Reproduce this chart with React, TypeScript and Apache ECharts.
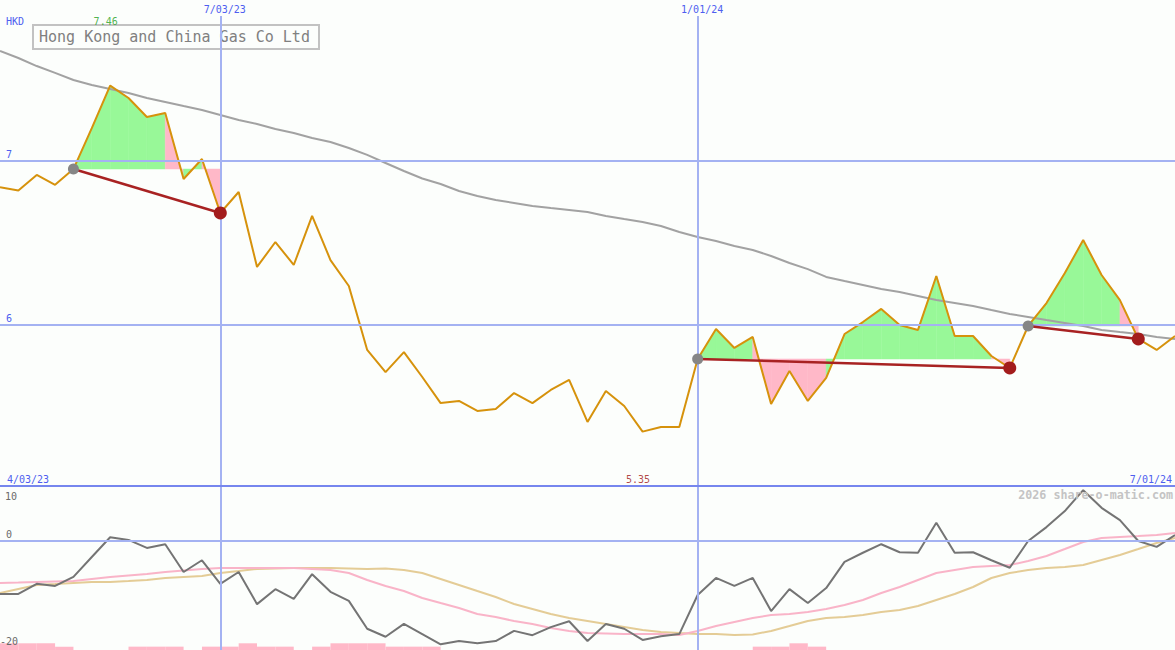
import React, { useEffect, useRef } from "react";
import * as echarts from "echarts";

// ---------- data (weekly points, index 0 = first week, 64 = last week) ----------
const TITLE = "Hong Kong and China Gas Co Ltd";
const CURRENCY = "HKD";
const START_LABEL = "4/03/23";
const END_LABEL = "7/01/24";
const WATERMARK = "2026 share-o-matic.com";

const dateTickIdx = [12, 38];
const dateTickLabels = ["7/03/23", "1/01/24"];
const priceTicks = [7, 6];
const oscTickLabels = ["10", "0", "-20"];

const price = [
  6.84, 6.82, 6.915, 6.855, 6.951, 7.2, 7.46, 7.384, 7.268, 7.293,
  6.89, 7.012, 6.683, 6.811, 6.354, 6.506, 6.366, 6.665, 6.396, 6.238,
  5.848, 5.713, 5.835, 5.683, 5.524, 5.537, 5.476, 5.488, 5.585, 5.524,
  5.604, 5.665, 5.409, 5.598, 5.506, 5.35, 5.378, 5.378, 5.793, 5.976,
  5.86, 5.927, 5.518, 5.72, 5.537, 5.677, 5.945, 6.018, 6.098, 6.0,
  5.97, 6.299, 5.933, 5.933, 5.811, 5.738, 5.994, 6.134, 6.317, 6.518,
  6.305, 6.152, 5.915, 5.848, 5.933,
];

const longMA = [
  7.671, 7.628, 7.579, 7.537, 7.494, 7.463, 7.439, 7.415, 7.384, 7.36,
  7.335, 7.311, 7.28, 7.25, 7.226, 7.195, 7.171, 7.14, 7.116, 7.079,
  7.037, 6.988, 6.939, 6.893, 6.86, 6.817, 6.787, 6.762, 6.744, 6.726,
  6.713, 6.701, 6.689, 6.665, 6.646, 6.628, 6.604, 6.567, 6.537, 6.512,
  6.482, 6.457, 6.421, 6.378, 6.341, 6.293, 6.268, 6.244, 6.22, 6.201,
  6.177, 6.152, 6.134, 6.116, 6.091, 6.067, 6.049, 6.03, 6.012, 5.994,
  5.97, 5.957, 5.945, 5.927, 5.915,
];

// trend segments: start week -> end week
const segStart = [4, 38, 56];
const segEnd = [12, 55, 62];

const oscillator = [
  -9.9, -9.9, -8.0, -8.4, -6.7, -3.0, 0.7, 0.2, -1.3, -0.6,
  -5.8, -3.6, -8.0, -5.8, -11.8, -9.0, -10.8, -6.2, -9.5, -11.2,
  -16.4, -17.9, -15.5, -17.4, -19.3, -18.7, -19.1, -18.7, -16.8, -17.6,
  -16.1, -15.0, -18.7, -15.5, -16.4, -18.5, -17.8, -17.4, -10.1, -6.9,
  -8.4, -6.9, -13.1, -9.0, -11.6, -8.8, -3.9, -2.2, -0.6, -2.1,
  -2.2, 3.4, -2.2, -2.1, -3.6, -5.0, 0.0, 2.6, 5.6, 9.5,
  6.2, 3.9, 0.0, -1.1, 1.1,
];

const oscPinkMA = [
  -7.85, -7.76, -7.66, -7.57, -7.48, -7.1, -6.73, -6.45, -6.17, -5.79,
  -5.51, -5.23, -5.05, -5.05, -5.05, -5.05, -5.05, -5.23, -5.42, -5.98,
  -7.29, -8.41, -9.35, -10.65, -11.59, -12.52, -13.64, -14.21, -14.95, -15.51,
  -16.26, -16.82, -17.2, -17.29, -17.38, -17.38, -17.38, -17.57, -16.82, -15.89,
  -15.14, -14.39, -13.83, -13.64, -13.27, -12.71, -11.96, -11.03, -9.72, -8.6,
  -7.29, -5.98, -5.42, -4.86, -4.67, -4.49, -3.74, -2.8, -1.5, -0.19,
  0.56, 0.75, 0.93, 1.12, 1.5,
];

const oscTanMA = [
  -9.72, -8.97, -8.22, -8.04, -7.85, -7.66, -7.66, -7.48, -7.29, -6.92,
  -6.73, -6.54, -5.98, -5.61, -5.23, -5.14, -5.05, -5.05, -5.05, -5.14,
  -5.23, -5.14, -5.42, -5.98, -7.1, -8.22, -9.35, -10.47, -11.78, -12.71,
  -13.64, -14.39, -14.95, -15.51, -16.07, -16.64, -17.01, -17.2, -17.38, -17.38,
  -17.57, -17.48, -16.82, -15.89, -14.95, -14.39, -14.21, -13.83, -13.27, -12.9,
  -12.15, -11.03, -9.91, -8.6, -6.92, -5.98, -5.42, -5.05, -4.86, -4.49,
  -3.55, -2.62, -1.5, -0.37, 0.56,
];

const volumeWeeks = [0, 1, 2, 3, 7, 8, 9, 11, 12, 13, 14, 15, 17, 18, 19, 20, 21, 22, 23, 41, 42, 43, 44];
const volumeLevels = [2, 2, 2, 1, 1, 1, 1, 1, 1, 2, 1, 1, 1, 2, 2, 2, 1, 1, 1, 1, 1, 2, 1];

// ---------- styling ----------
const W = 1175;
const H = 650;
const TOP_H = 487;
const BG = "#fcfefc";
const GRID_BLUE = "#a4b2f2";
const SEP_BLUE = "#7686ee";
const LABEL_BLUE = "#4e5ef0";
const MONO = "'DejaVu Sans Mono', 'Liberation Mono', monospace";
const GREEN_FILL = "#98f898";
const PINK_FILL = "#ffb8c8";

// price axis: 7 at y=161, 6 at y=325
const PX_PER_HKD = 164;
const PRICE_MAX = 7 + 161 / PX_PER_HKD;
const PRICE_MIN = 7 - (TOP_H - 161) / PX_PER_HKD;
const priceAtY = (y: number) => PRICE_MAX - y / PX_PER_HKD;

// oscillator axis: 0 at y=541 (54 px below panel top), 10 units = 53.5 px
const PX_PER_OSC = 5.35;
const OSC_MAX = 54 / PX_PER_OSC;
const OSC_MIN = -(H - TOP_H - 54) / PX_PER_OSC;
const VOL_MAX = (H - TOP_H) / 3.35;

export default function App() {
  const ref = useRef<HTMLDivElement>(null);

  useEffect(() => {
    if (!ref.current) return;
    document.body.style.margin = "0";
    document.body.style.background = BG;
    const chart = echarts.init(ref.current, undefined, { renderer: "svg" });

    const last = price.length - 1;
    const pts = (arr: number[]) => arr.map((v, i) => [i, v]);

    const fillItems: number[][] = [];
    segStart.forEach((s, k) => {
      const e = segEnd[k];
      const base = price[s];
      for (let i = s; i < e; i++) {
        fillItems.push([i, price[i], price[i + 1], base, price[i + 1] >= base ? 1 : 0]);
      }
    });

    let maxIdx = 0;
    let minIdx = 0;
    price.forEach((v, i) => {
      if (v > price[maxIdx]) maxIdx = i;
      if (v < price[minIdx]) minIdx = i;
    });

    const vTop = priceAtY(16);

    const option: any = {
      animation: false,
      backgroundColor: BG,
      tooltip: { show: false },
      grid: [
        { left: 0, right: 0, top: 0, height: TOP_H },
        { left: 0, right: 0, top: TOP_H, height: H - TOP_H },
      ],
      xAxis: [
        { type: "value", gridIndex: 0, min: 0, max: last, show: false },
        { type: "value", gridIndex: 1, min: 0, max: last, show: false },
      ],
      yAxis: [
        { type: "value", gridIndex: 0, min: PRICE_MIN, max: PRICE_MAX, show: false },
        { type: "value", gridIndex: 1, min: OSC_MIN, max: OSC_MAX, show: false },
        { type: "value", gridIndex: 1, min: 0, max: VOL_MAX, show: false },
      ],
      series: [
        // upper grid lines + labels
        {
          type: "line",
          xAxisIndex: 0,
          yAxisIndex: 0,
          z: 1,
          silent: true,
          showSymbol: false,
          lineStyle: { opacity: 0 },
          data: pts(price),
          markLine: {
            silent: true,
            symbol: ["none", "none"],
            animation: false,
            lineStyle: { color: GRID_BLUE, width: 2, type: "solid" },
            label: {
              show: true,
              position: "insideStartTop",
              color: LABEL_BLUE,
              fontFamily: MONO,
              fontSize: 10,
              distance: [6, 2],
            },
            data: [
              ...priceTicks.map((t) => ({ yAxis: t, label: { formatter: String(t) } })),
              ...dateTickIdx.map((idx, k) => [
                {
                  coord: [idx, vTop],
                  label: {
                    show: true,
                    position: "start",
                    formatter: dateTickLabels[k],
                    distance: 2,
                    padding: [0, 0, 0, 9],
                  },
                },
                { coord: [idx, PRICE_MIN] },
              ]),
              {
                yAxis: priceAtY(486.5),
                lineStyle: { color: SEP_BLUE, width: 2, type: "solid" },
                label: { show: false },
              },
            ],
          },
        },
        // max / min value labels
        {
          type: "scatter",
          xAxisIndex: 0,
          yAxisIndex: 0,
          z: 7,
          silent: true,
          symbol: "rect",
          symbolSize: 1,
          itemStyle: { color: "rgba(0,0,0,0)" },
          label: { show: true, position: "inside", fontFamily: MONO, fontSize: 10 },
          data: [
            {
              value: [maxIdx, priceAtY(21)],
              label: { formatter: price[maxIdx].toFixed(2), color: "#22a022", offset: [-4.5, 0] },
            },
            {
              value: [minIdx, priceAtY(479)],
              label: { formatter: price[minIdx].toFixed(2), color: "#a01818", offset: [-4.5, 0] },
            },
          ],
        },
        // fills between price and trend base
        {
          type: "custom",
          xAxisIndex: 0,
          yAxisIndex: 0,
          z: 2,
          silent: true,
          data: fillItems,
          encode: { x: 0, y: 1 },
          renderItem: (_params: any, api: any) => {
            const i = api.value(0);
            const a = api.value(1);
            const b = api.value(2);
            const base = api.value(3);
            const up = api.value(4);
            const color = up ? GREEN_FILL : PINK_FILL;
            return {
              type: "polygon",
              shape: {
                points: [api.coord([i, base]), api.coord([i, a]), api.coord([i + 1, b]), api.coord([i + 1, base])],
              },
              style: { fill: color, stroke: color, lineWidth: 0.5 },
            };
          },
        },
        // long moving average
        {
          type: "line",
          xAxisIndex: 0,
          yAxisIndex: 0,
          z: 3,
          silent: true,
          showSymbol: false,
          data: pts(longMA),
          lineStyle: { color: "#a2a2a2", width: 2 },
        },
        // price
        {
          type: "line",
          xAxisIndex: 0,
          yAxisIndex: 0,
          z: 4,
          silent: true,
          showSymbol: false,
          data: pts(price),
          lineStyle: { color: "#d6920c", width: 2 },
        },
        // trend lines
        ...segStart.map((s, k) => ({
          type: "line",
          xAxisIndex: 0,
          yAxisIndex: 0,
          z: 5,
          silent: true,
          showSymbol: false,
          data: [
            [s, price[s]],
            [segEnd[k], price[segEnd[k]]],
          ],
          lineStyle: { color: "#a82222", width: 2.5 },
        })),
        {
          type: "scatter",
          xAxisIndex: 0,
          yAxisIndex: 0,
          z: 6,
          silent: true,
          symbolSize: 11,
          itemStyle: { color: "#868686", opacity: 1 },
          data: segStart.map((s) => [s, price[s]]),
        },
        {
          type: "scatter",
          xAxisIndex: 0,
          yAxisIndex: 0,
          z: 6,
          silent: true,
          symbolSize: 13,
          itemStyle: { color: "#a31c1c", opacity: 1 },
          data: segEnd.map((e) => [e, price[e]]),
        },
        // lower panel grid lines
        {
          type: "line",
          xAxisIndex: 1,
          yAxisIndex: 1,
          z: 1,
          silent: true,
          showSymbol: false,
          lineStyle: { opacity: 0 },
          data: pts(oscillator),
          markLine: {
            silent: true,
            symbol: ["none", "none"],
            animation: false,
            lineStyle: { color: GRID_BLUE, width: 2, type: "solid" },
            label: { show: false },
            data: [
              {
                yAxis: 0,
                label: {
                  show: true,
                  position: "insideStartTop",
                  formatter: oscTickLabels[1],
                  color: "#6a6a6a",
                  fontFamily: MONO,
                  fontSize: 10,
                  distance: [6, 2],
                },
              },
              ...dateTickIdx.map((idx) => ({ xAxis: idx })),
            ],
          },
        },
        // volume-like bars
        {
          type: "custom",
          xAxisIndex: 1,
          yAxisIndex: 2,
          z: 2,
          silent: true,
          data: volumeWeeks.map((w, k) => [w, volumeLevels[k]]),
          encode: { x: 0, y: 1 },
          renderItem: (_params: any, api: any) => {
            const i = api.value(0);
            const v = api.value(1);
            const p0 = api.coord([i, v]);
            const p1 = api.coord([i + 1, 0]);
            return {
              type: "rect",
              shape: { x: p0[0], y: p0[1], width: p1[0] - p0[0], height: p1[1] - p0[1] },
              style: { fill: PINK_FILL },
            };
          },
        },
        {
          type: "line",
          xAxisIndex: 1,
          yAxisIndex: 1,
          z: 3,
          silent: true,
          showSymbol: false,
          data: pts(oscTanMA),
          lineStyle: { color: "#e4cc96", width: 2 },
        },
        {
          type: "line",
          xAxisIndex: 1,
          yAxisIndex: 1,
          z: 3,
          silent: true,
          showSymbol: false,
          data: pts(oscPinkMA),
          lineStyle: { color: "#f9b4c8", width: 2 },
        },
        {
          type: "line",
          xAxisIndex: 1,
          yAxisIndex: 1,
          z: 4,
          silent: true,
          showSymbol: false,
          data: pts(oscillator),
          lineStyle: { color: "#747474", width: 2 },
        },
      ],
      graphic: [
        {
          type: "text",
          left: 6,
          top: 16,
          z: 10,
          style: { text: CURRENCY, fill: LABEL_BLUE, font: `10px ${MONO}` },
        },
        {
          type: "group",
          left: 32,
          top: 24,
          z: 10,
          children: [
            {
              type: "rect",
              shape: { x: 0, y: 0, width: 286, height: 24 },
              style: { fill: BG, stroke: "#c2c2c2", lineWidth: 2 },
            },
            {
              type: "text",
              x: 6,
              y: 12,
              style: {
                text: TITLE,
                fill: "#808080",
                font: `15px ${MONO}`,
                verticalAlign: "middle",
              },
            },
          ],
        },
        {
          type: "text",
          left: 7,
          top: 474,
          z: 10,
          style: { text: START_LABEL, fill: LABEL_BLUE, font: `10px ${MONO}` },
        },
        {
          type: "text",
          right: 3,
          top: 474,
          z: 10,
          style: { text: END_LABEL, fill: LABEL_BLUE, font: `10px ${MONO}` },
        },
        {
          type: "text",
          right: 2,
          top: 489,
          z: 10,
          style: { text: WATERMARK, fill: "#c4c4c4", font: `bold 11.7px ${MONO}` },
        },
        {
          type: "text",
          left: 5,
          top: 491,
          z: 10,
          style: { text: oscTickLabels[0], fill: "#6a6a6a", font: `10px ${MONO}` },
        },
        {
          type: "text",
          left: 0,
          top: 636,
          z: 10,
          style: { text: oscTickLabels[2], fill: "#6a6a6a", font: `10px ${MONO}` },
        },
      ],
    };

    chart.setOption(option);
    return () => chart.dispose();
  }, []);

  return <div ref={ref} style={{ width: W, height: H, background: BG }} />;
}
